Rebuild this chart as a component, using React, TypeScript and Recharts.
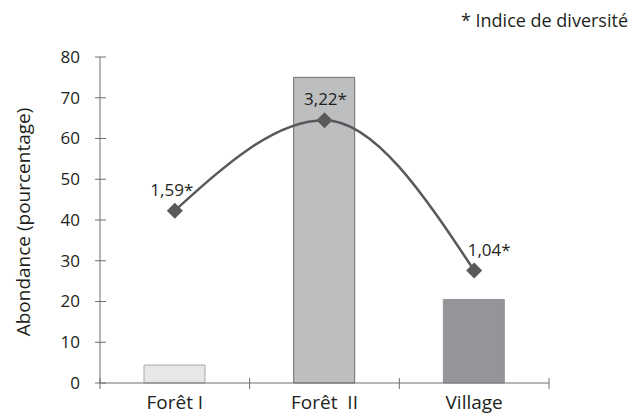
import { Bar, Line, XAxis, YAxis, Cell, LabelList, ComposedChart } from 'recharts';

const categories = ['Forêt I', 'Forêt  II', 'Village'];
const abondance = [4.4, 75, 20.5];
const indicePos = [42.3, 64.5, 27.6];
const indiceLabels = ['1,59*', '3,22*', '1,04*'];
const yTicks = [0, 10, 20, 30, 40, 50, 60, 70, 80];

const BAR_FILLS = ['#e6e7e8', '#bcbec0', '#939598'];
const BAR_STROKES = ['#a7a9ac', '#6d6e71', '#939598'];
const LABEL_DX = [-3, 1, 15];

const W = 633;
const H = 415;
const MARGIN = { top: 57, right: 84, bottom: 0, left: 0 };
const Y_W = 100;
const BAND = (W - MARGIN.right - Y_W) / categories.length;
const AXIS = '#6d6e71';
const INK = '#231f20';
const FONT = '"Open Sans", sans-serif';

const data = categories.map((name, i) => ({
  name,
  abondance: abondance[i],
  indice: indicePos[i],
  label: indiceLabels[i],
}));

const XTick = (props: any) => {
  const { x, y, payload, index } = props;
  const left = x - BAND / 2;
  return (
    <g>
      <line x1={left} x2={left} y1={y - 5} y2={y + 6} stroke={AXIS} />
      {index === categories.length - 1 && (
        <line x1={x + BAND / 2} x2={x + BAND / 2} y1={y - 5} y2={y + 6} stroke={AXIS} />
      )}
      <text x={x} y={y + 26} textAnchor="middle" fontSize={19} fill={INK} fontFamily={FONT} style={{ whiteSpace: 'pre' }}>
        {payload.value}
      </text>
    </g>
  );
};

const YTick = (props: any) => {
  const { x, y, payload } = props;
  return (
    <g>
      <line x1={x - 5} x2={x + 6} y1={y} y2={y} stroke={AXIS} />
      <text x={x - 20} y={y} dy="0.35em" textAnchor="end" fontSize={17} fill={INK} fontFamily={FONT}>
        {payload.value}
      </text>
    </g>
  );
};

const Diamond = (props: any) => {
  const { cx, cy } = props;
  if (cx == null || cy == null) return null;
  const r = 8;
  return (
    <polygon
      points={`${cx},${cy - r} ${cx + r},${cy} ${cx},${cy + r} ${cx - r},${cy}`}
      fill="#58595b"
    />
  );
};

const IndexLabel = (props: any) => {
  const { x, y, value, index } = props;
  return (
    <text x={x + LABEL_DX[index]} y={y - 15} textAnchor="middle" fontSize={17} fill={INK} fontFamily={FONT}>
      {value}
    </text>
  );
};

export default function App() {
  return (
    <div style={{ position: 'absolute', left: 0, top: 0, width: W, height: H, background: '#fff' }}>
      <div
        style={{
          position: 'absolute',
          right: 5,
          top: 8,
          whiteSpace: 'nowrap',
          fontFamily: FONT,
          fontSize: 18,
          color: INK,
          lineHeight: '24px',
        }}
      >
        * Indice de diversité
      </div>
      <ComposedChart width={W} height={H} data={data} margin={MARGIN}>
        <XAxis
          dataKey="name"
          height={32}
          axisLine={{ stroke: AXIS }}
          tickLine={false}
          tickSize={0}
          tickMargin={0}
          tick={<XTick />}
          interval={0}
        />
        <YAxis
          width={Y_W}
          domain={[0, 80]}
          ticks={yTicks}
          axisLine={{ stroke: AXIS }}
          tickLine={false}
          tickSize={0}
          tickMargin={0}
          tick={<YTick />}
          interval={0}
          label={{
            value: 'Abondance (pourcentage)',
            angle: -90,
            position: 'center',
            dx: -27,
            dy: 2,
            fontSize: 19,
            fill: INK,
            fontFamily: FONT,
          }}
        />
        <Bar dataKey="abondance" barSize={61} isAnimationActive={false}>
          {data.map((_, i) => (
            <Cell key={i} fill={BAR_FILLS[i]} stroke={BAR_STROKES[i]} strokeWidth={1} />
          ))}
        </Bar>
        <Line
          dataKey="indice"
          type="monotone"
          stroke="#58595b"
          strokeWidth={2.5}
          dot={<Diamond />}
          activeDot={false}
          isAnimationActive={false}
        >
          <LabelList dataKey="label" content={<IndexLabel />} />
        </Line>
      </ComposedChart>
    </div>
  );
}
